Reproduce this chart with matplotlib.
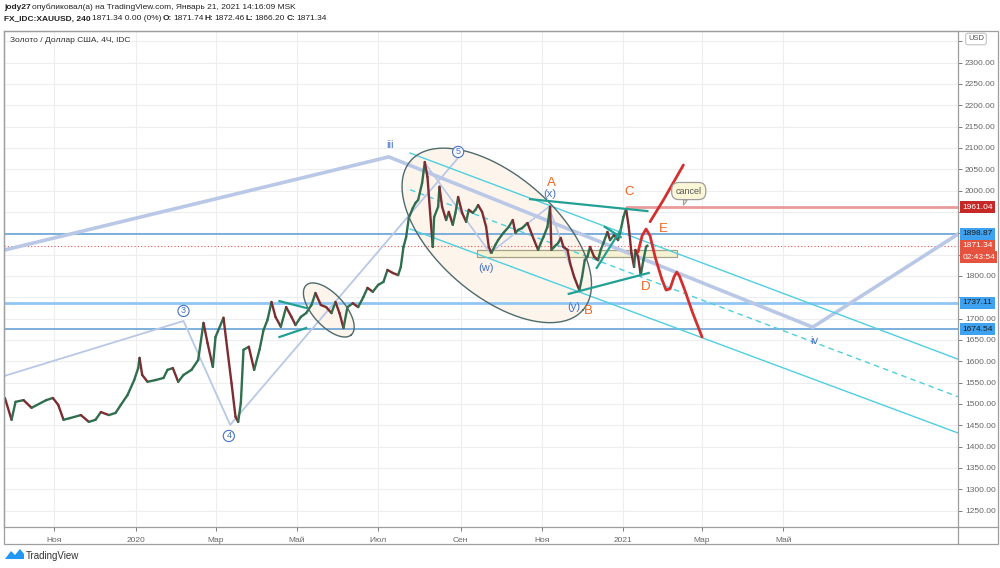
import matplotlib
matplotlib.use('Agg')
import matplotlib.pyplot as plt
import matplotlib.dates as mdates
import matplotlib.transforms as mtransforms
from matplotlib.collections import LineCollection
from matplotlib.patches import Rectangle, Polygon
import numpy as np
import pandas as pd

plt.rcParams['font.family'] = ['Liberation Sans', 'DejaVu Sans']

# ---------------- price path (XAUUSD 4H) ----------------
price_dates = [
    '2019-09-25', '2019-09-30', '2019-10-03', '2019-10-09', '2019-10-15', '2019-10-26',
    '2019-10-31', '2019-11-04', '2019-11-08', '2019-11-13', '2019-11-21', '2019-11-27',
    '2019-12-02', '2019-12-06', '2019-12-12', '2019-12-17', '2019-12-21', '2019-12-26',
    '2019-12-31', '2020-01-03', '2020-01-04', '2020-01-06', '2020-01-10', '2020-01-16',
    '2020-01-22', '2020-01-25', '2020-01-29', '2020-02-02', '2020-02-06', '2020-02-12',
    '2020-02-17', '2020-02-21', '2020-02-24', '2020-02-28', '2020-03-01', '2020-03-07',
    '2020-03-09', '2020-03-13', '2020-03-16', '2020-03-18', '2020-03-20', '2020-03-22',
    '2020-03-26', '2020-03-30', '2020-04-03', '2020-04-06', '2020-04-09', '2020-04-12',
    '2020-04-15', '2020-04-19', '2020-04-23', '2020-04-27', '2020-04-30', '2020-05-04',
    '2020-05-08', '2020-05-12', '2020-05-15', '2020-05-19', '2020-05-23', '2020-05-27',
    '2020-05-30', '2020-06-02', '2020-06-05', '2020-06-08', '2020-06-12', '2020-06-16',
    '2020-06-20', '2020-06-23', '2020-06-27', '2020-07-01', '2020-07-05', '2020-07-08',
    '2020-07-12', '2020-07-16', '2020-07-18', '2020-07-20', '2020-07-22', '2020-07-24',
    '2020-07-27', '2020-07-29', '2020-07-31', '2020-08-03', '2020-08-05', '2020-08-07',
    '2020-08-09', '2020-08-11', '2020-08-12', '2020-08-15', '2020-08-16', '2020-08-18',
    '2020-08-21', '2020-08-23', '2020-08-26', '2020-08-28', '2020-08-30', '2020-09-02',
    '2020-09-05', '2020-09-07', '2020-09-10', '2020-09-12', '2020-09-14', '2020-09-17',
    '2020-09-20', '2020-09-22', '2020-09-24', '2020-09-27', '2020-09-29', '2020-10-03',
    '2020-10-07', '2020-10-10', '2020-10-12', '2020-10-14', '2020-10-17', '2020-10-21',
    '2020-10-23', '2020-10-26', '2020-10-29', '2020-10-31', '2020-11-02', '2020-11-05',
    '2020-11-07', '2020-11-08', '2020-11-10', '2020-11-13', '2020-11-15', '2020-11-17',
    '2020-11-20', '2020-11-22', '2020-11-25', '2020-11-28', '2020-11-29', '2020-12-01',
    '2020-12-03', '2020-12-05', '2020-12-07', '2020-12-10', '2020-12-13', '2020-12-15',
    '2020-12-17', '2020-12-20', '2020-12-22', '2020-12-25', '2020-12-28', '2020-12-30',
    '2021-01-01', '2021-01-03', '2021-01-05', '2021-01-07', '2021-01-09', '2021-01-10',
    '2021-01-12', '2021-01-14', '2021-01-16', '2021-01-18', '2021-01-19',
]
price_close = [
    1514, 1463, 1505, 1509, 1491, 1509,
    1514, 1498, 1463, 1467, 1474, 1458,
    1463, 1481, 1474, 1479, 1498, 1521,
    1556, 1584, 1608, 1568, 1552, 1556,
    1561, 1580, 1584, 1552, 1568, 1580,
    1603, 1690, 1643, 1587, 1657, 1702,
    1650, 1549, 1470, 1458, 1502, 1627,
    1634, 1580, 1627, 1673, 1697, 1739,
    1704, 1681, 1727, 1704, 1685, 1704,
    1713, 1732, 1760, 1732, 1727, 1713,
    1739, 1713, 1678, 1727, 1736, 1727,
    1751, 1772, 1763, 1779, 1786, 1814,
    1807, 1802, 1821, 1868, 1891, 1936,
    1959, 1971, 1978, 2018, 2067, 2032,
    1948, 1868, 1938, 1962, 2009, 1962,
    1931, 1950, 1920, 1948, 1985, 1948,
    1927, 1955, 1948, 1955, 1966, 1950,
    1915, 1868, 1854, 1873, 1884, 1901,
    1915, 1931, 1901, 1908, 1912, 1924,
    1908, 1884, 1861, 1877, 1891, 1915,
    1962, 1861, 1868, 1877, 1889, 1868,
    1861, 1830, 1798, 1774, 1767, 1798,
    1837, 1845, 1868, 1845, 1837, 1861,
    1877, 1903, 1884, 1896, 1884, 1908,
    1938, 1957, 1915, 1854, 1821, 1861,
    1845, 1802, 1837, 1868, 1871.34,
]

# ---------------- horizontal levels ----------------
level_red = 1961.04
level_red_start = '2021-01-04'
level_blue_top = 1898.87
level_last = 1871.34
level_blue_mid = 1737.11
level_blue_low = 1674.54

# ---------------- Elliott wave drawings ----------------
big_wave_dates = ['2019-09-25', '2020-07-09', '2021-05-23', '2021-09-09']
big_wave_prices = [1861, 2079, 1680, 1898]
wave345_dates = ['2019-09-25', '2020-02-06', '2020-03-12', '2020-08-30']
wave345_prices = [1566, 1694.5, 1451, 2076.6]
wxy_dates = ['2020-08-05', '2020-09-23', '2020-11-06', '2020-11-29']
wxy_prices = [2065, 1854, 1962, 1765]

channel_dates = ['2020-07-25', '2021-09-09']
channel_upper = [2088, 1605]
channel_mid = [2002, 1517]
channel_lower = [1910, 1432]

teal_dates = [
    ['2020-04-18', '2020-05-08'],
    ['2020-04-18', '2020-05-08'],
    ['2020-10-23', '2021-01-19'],
    ['2020-11-21', '2021-01-20'],
    ['2020-12-12', '2020-12-30'],
    ['2020-12-18', '2020-12-30'],
]
teal_prices = [
    [1741, 1725],
    [1657, 1678],
    [1980, 1952],
    [1758, 1807],
    [1819, 1908],
    [1915, 1891],
]

red_path_dates = ['2021-01-12', '2021-01-15', '2021-01-18', '2021-01-21', '2021-01-25',
                  '2021-01-30', '2021-02-02', '2021-02-05', '2021-02-08', '2021-02-10',
                  '2021-02-12', '2021-02-16', '2021-02-22', '2021-03-01']
red_path_prices = [1856, 1894, 1910, 1894, 1842, 1791, 1767, 1770, 1798, 1809,
                   1800, 1767, 1713, 1657]
cancel_dates = ['2021-01-21', '2021-01-31', '2021-02-15']
cancel_prices = [1927, 1978, 2060]

box_dates = ['2020-09-13', '2021-02-10']
box_prices = [1844.5, 1861]

# ellipses: centre (date, price), conjugate half-axes (days, price)
ellipse_big = ('2020-09-28', 1895, (64.7, -174.6), (-29.4, -106.4))
ellipse_small = ('2020-05-25', 1720.3, (16.9, -58.1), (-8.8, -25.3))

wave_labels_blue = [('iii', '2020-07-10', 2107), ('iv', '2021-05-24', 1648),
                    ('(w)', '2020-09-20', 1818.7), ('(x)', '2020-11-07', 1992),
                    ('(y)', '2020-11-25', 1727)]
circled_labels = [('3', '2020-02-06', 1718), ('4', '2020-03-11', 1425), ('5', '2020-08-30', 2090.6)]
abcde_labels = [('A', '2020-11-08', 2018), ('B', '2020-12-06', 1718), ('C', '2021-01-05', 1997),
                ('D', '2021-01-18', 1774), ('E', '2021-01-31', 1910)]

x_tick_dates = ['2019-11-01', '2020-01-01', '2020-03-01', '2020-05-01', '2020-07-01',
                '2020-09-01', '2020-11-01', '2021-01-01', '2021-03-01', '2021-05-01']
x_tick_labels = ['Ноя', '2020', 'Мар', 'Май', 'Июл', 'Сен', 'Ноя', '2021', 'Мар', 'Май']
y_ticks = list(range(1250, 2351, 50))
y_ticks_hidden = [2350, 1950, 1900, 1850, 1750]   # covered by tags in the reference


def D(s):
    return mdates.date2num(pd.Timestamp(s))


def Ds(lst):
    return [D(s) for s in lst]


W, H = 1000, 568
fig = plt.figure(figsize=(W / 100, H / 100), dpi=100)
ax = fig.add_axes([4 / W, 1 - 527 / H, 954 / W, 496 / H])
ax.set_xlim(D('2019-09-24 08:00'), D('2021-09-09'))
ax.set_ylim(1211.7, 2374)
ax.set_facecolor('white')

# grid
for v in y_ticks:
    ax.axhline(v, color='#eeeeee', lw=0.8, zorder=0)
for s in x_tick_dates:
    ax.axvline(D(s), color='#eeeeee', lw=0.8, zorder=0)

ax.yaxis.tick_right()
ax.set_yticks(y_ticks)
ax.set_yticklabels(['' if v in y_ticks_hidden else f'{v:.2f}' for v in y_ticks])
ax.set_xticks(Ds(x_tick_dates))
ax.set_xticklabels(x_tick_labels)
ax.tick_params(axis='both', labelsize=6, colors='#666666', length=3, width=0.6)
ax.tick_params(axis='y', pad=2)
ax.tick_params(axis='x', pad=4)
for sp in ax.spines.values():
    sp.set_color('#9e9e9e')
    sp.set_linewidth(0.9)

# ellipses
def ellipse_pts(spec, n=300):
    cd, cp, u, v = spec
    t = np.linspace(0, 2 * np.pi, n)
    xs = D(cd) + u[0] * np.cos(t) + v[0] * np.sin(t)
    ys = cp + u[1] * np.cos(t) + v[1] * np.sin(t)
    return xs, ys

for spec in (ellipse_big, ellipse_small):
    xs, ys = ellipse_pts(spec)
    ax.fill(xs, ys, fc='#fdf4ec', ec='none', zorder=1)
    ax.plot(xs, ys, color='#4f6b6b', lw=1.0, zorder=4)

# horizontal levels
ax.axhline(level_blue_top, color='#5b9bd5', lw=1.1, zorder=2)
ax.axhline(level_blue_mid, color='#90c6f4', lw=2.0, zorder=2)
ax.axhline(level_blue_low, color='#5b9bd5', lw=1.1, zorder=2)
ax.axhline(level_last, color='#ef5350', lw=0.8, ls=(0, (1, 2)), zorder=2)
ax.plot([D(level_red_start), ax.get_xlim()[1]], [level_red, level_red], color='#e99a9a', lw=2.0, zorder=2)

# yellow box
bx = Ds(box_dates)
ax.add_patch(Rectangle((bx[0], box_prices[0]), bx[1] - bx[0], box_prices[1] - box_prices[0],
                       fc='#f6f1cf', ec='#9a9a80', lw=0.9, alpha=0.9, zorder=2))

# lavender wave lines
ax.plot(Ds(big_wave_dates), big_wave_prices, color='#b9c8e6', lw=2.6, zorder=2, solid_joinstyle='miter')
ax.plot(Ds(wave345_dates), wave345_prices, color='#b9c8e6', lw=1.3, zorder=2)
ax.plot(Ds(wxy_dates), wxy_prices, color='#b9c8e6', lw=1.2, zorder=2)

# channel
cx = Ds(channel_dates)
ax.plot(cx, channel_upper, color='#4fcfe0', lw=1.0, zorder=2)
ax.plot(cx, channel_mid, color='#4fcfe0', lw=1.0, ls=(0, (4, 3)), zorder=2)
ax.plot(cx, channel_lower, color='#4fcfe0', lw=1.0, zorder=2)

# teal trend lines
for dd, pp in zip(teal_dates, teal_prices):
    ax.plot(Ds(dd), pp, color='#22a094', lw=1.6, zorder=4)

# price path
px = np.array(Ds(price_dates))
py = np.array(price_close, dtype=float)
segs = np.stack([np.column_stack([px[:-1], py[:-1]]), np.column_stack([px[1:], py[1:]])], axis=1)
cols = ['#2f6e4e' if b >= a else '#7d2c30' for a, b in zip(py[:-1], py[1:])]
ax.add_collection(LineCollection(segs, colors=cols, linewidths=1.7, zorder=3, capstyle='round'))

# red projections
ax.plot(Ds(red_path_dates), red_path_prices, color='#d32f2f', lw=2.0, zorder=5, solid_capstyle='round')
ax.plot(Ds(cancel_dates), cancel_prices, color='#d32f2f', lw=2.0, zorder=5, solid_capstyle='round')

# labels
for t, d, p in wave_labels_blue:
    ax.text(D(d), p, t, color='#4472c4', fontsize=8, ha='center', va='center', zorder=6)
for t, d, p in circled_labels:
    ax.text(D(d), p, t, color='#4472c4', fontsize=6.5, ha='center', va='center', zorder=6,
            bbox=dict(boxstyle='circle,pad=0.12', fc='white', ec='#4472c4', lw=0.8))
for t, d, p in abcde_labels:
    ax.text(D(d), p, t, color='#f0641e', fontsize=9.5, ha='center', va='center', zorder=6)

# cancel callout
ax.annotate('cancel', xy=(D('2021-02-15'), 1966), xytext=(D('2021-02-19'), 1999),
            fontsize=6.5, color='#555555', ha='center', va='center', zorder=7,
            bbox=dict(boxstyle='round,pad=0.45,rounding_size=0.8', fc='#fbf7d6', ec='#9e9e9e', lw=0.9),
            arrowprops=dict(arrowstyle='wedge,tail_width=0.4', fc='#fbf7d6', ec='#9e9e9e', lw=0.8,
                            shrinkA=0, shrinkB=0))

# right-axis price labels
trans = mtransforms.blended_transform_factory(ax.transAxes, ax.transData)
def price_tag(val, fc, tc, text=None, dy=0):
    ax.annotate(text if text else f'{val:.2f}', xy=(1.0, val), xycoords=trans,
                xytext=(3, dy), textcoords='offset points', fontsize=6, color=tc,
                ha='left', va='center', annotation_clip=False, zorder=8,
                bbox=dict(boxstyle='square,pad=0.3', fc=fc, ec='none'))

price_tag(level_red, '#c62828', 'white')
price_tag(level_blue_top, '#3fa2f0', '#1b1b1b')
price_tag(level_last, '#e5533f', 'white')
price_tag(level_last, '#e5533f', 'white', text='02:43:54', dy=-8.3)
price_tag(level_blue_mid, '#3fa2f0', '#1b1b1b')
price_tag(level_blue_low, '#3fa2f0', '#1b1b1b')

# ---------------- frame & header ----------------
fig.add_artist(Rectangle((4 / W, 1 - 544 / H), 994 / W, 513 / H, transform=fig.transFigure,
                         fill=False, ec='#9e9e9e', lw=0.9))
fig.add_artist(plt.Line2D([958 / W, 958 / W], [1 - 544 / H, 1 - 527 / H], transform=fig.transFigure,
                          color='#9e9e9e', lw=0.9))
fig.add_artist(plt.Line2D([958 / W, 998 / W], [1 - 527 / H, 1 - 527 / H], transform=fig.transFigure,
                          color='#9e9e9e', lw=0.9))

renderer = fig.canvas.get_renderer()

def seg_text(x_px, y_px, segments, size=6.0, gap=1.8):
    x = x_px
    for s, bold in segments:
        t = fig.text(x / W, 1 - y_px / H, s, fontsize=size, fontweight='bold' if bold else 'normal',
                     va='center', ha='left', color='#222222')
        bb = t.get_window_extent(renderer=renderer)
        x += bb.width + gap

seg_text(4, 7.5, [('jody27', True), ('опубликовал(а) на TradingView.com, Январь 21, 2021 14:16:09 MSK', False)])
seg_text(4, 19, [('FX_IDC:XAUUSD, 240', True), ('1871.34 0.00 (0%)', False), ('O:', True), ('1871.74', False),
                 ('H:', True), ('1872.46', False), ('L:', True), ('1866.20', False), ('C:', True), ('1871.34', False)],
         gap=1.2)
fig.text(10 / W, 1 - 40 / H, 'Золото / Доллар США, 4Ч, IDC', fontsize=6, color='#333333', va='center')
fig.text(976 / W, 1 - 39 / H, 'USD', fontsize=5.5, color='#555555', ha='center', va='center',
         bbox=dict(boxstyle='round,pad=0.3', fc='white', ec='#bbbbbb', lw=0.7))

# TradingView footer
logo = [(5, 559), (11, 551), (15, 555), (20, 549), (24, 554), (24, 559)]
fig.add_artist(Polygon([(x / W, 1 - y / H) for x, y in logo], closed=True, transform=fig.transFigure,
                       fc='#2196f3', ec='none'))
fig.text(26 / W, 1 - 556 / H, 'TradingView', fontsize=7, color='#333333', va='center')

fig.savefig('out.png', dpi=100, facecolor='white')
